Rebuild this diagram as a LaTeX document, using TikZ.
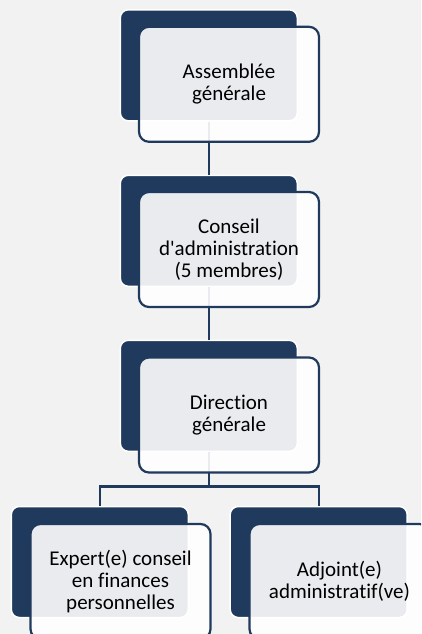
\documentclass[tikz,border=0pt]{standalone}
\usepackage{fontspec}
\newfontfamily\boxfont{Carlito}[Ligatures=NoCommon]
\usetikzlibrary{positioning}
\definecolor{navycol}{RGB}{31,58,93}
\definecolor{pagecol}{RGB}{242,242,242}

\begin{document}
\begin{tikzpicture}[
    x=1pt, y=-1pt,
    back/.style={draw=white, line width=1.5pt, fill=navycol, rounded corners=8pt,
      minimum width=177pt, minimum height=111pt, inner sep=0pt},
    front/.style={draw=navycol, line width=2.2pt, fill=white, fill opacity=0.9,
      text opacity=1, rounded corners=10pt, minimum width=180pt, minimum height=115pt,
      inner sep=0pt, align=center, font=\boxfont\fontsize{21}{22.3}\selectfont},
    link/.style={draw=navycol, line width=2.4pt},
]
\useasboundingbox (0,0) rectangle (421,634);
\fill[pagecol] (0,0) rectangle (421,634);
\clip (0,0) rectangle (421,634);

% dark back plates
\node[back] (agb) at (208.8,65.3) {};
\node[back] (cab) at (208.8,230.8) {};
\node[back] (dgb) at (208.8,395.8) {};
\node[back] (expb) at (99.8,562) {};
\node[back] (adjb) at (318.7,562) {};

% connectors
\coordinate (fork) at (208.8,486.5);
\draw[link] (agb.south) -- (cab.north);
\draw[link] (cab.south) -- (dgb.north);
\draw[link] (dgb.south) -- (fork) -| (expb.north);
\draw[link] (fork) -| (adjb.north);

% front boxes
\node[front] (ag) at (229,84.3) {Assemblée\\générale};
\node[front] (ca) at (229,249.5) {Conseil\\d'administration\\(5 membres)};
\node[front] (dg) at (229,415) {Direction\\générale};
\node[front] (exp) at (120.5,581.5) {Expert(e) conseil\\en finances\\personnelles};
\node[front] (adj) at (339.5,581.5) {Adjoint(e)\\administratif(ve)};
\end{tikzpicture}
\end{document}
